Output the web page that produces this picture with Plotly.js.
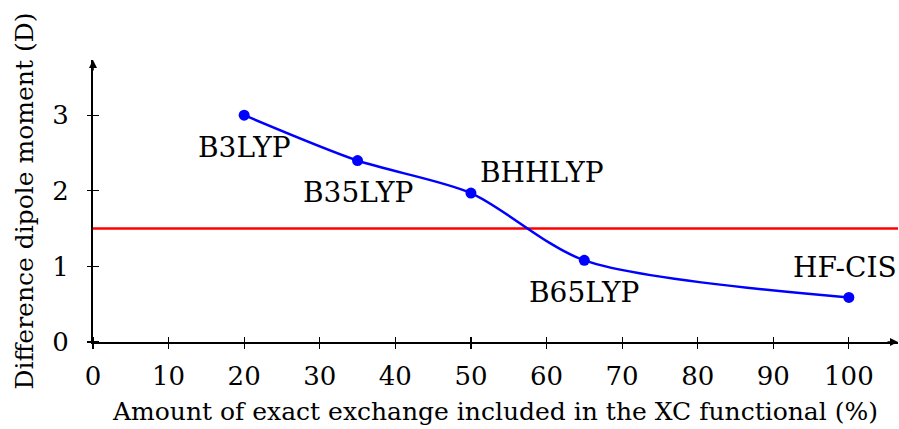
<!DOCTYPE html>
<html><head><meta charset="utf-8">
<script src="https://cdn.plot.ly/plotly-3.0.1.min.js"></script>
<style>html,body{margin:0;padding:0;background:#fff;}</style>
</head><body><div id="c" style="width:899px;height:429px;"></div>
<script>
const xVals = [20, 35, 50, 65, 100];
const yVals = [3.0, 2.4, 1.97, 1.08, 0.59];
const pointLabels = ["B3LYP", "B35LYP", "BHHLYP", "B65LYP", "HF-CIS"];
const labelShiftX = [0, 0, 71, 0, -4];
const labelShiftY = [-32, -32, 21, -32, 30];
const refValue = 1.5;
const xTicks = [0,10,20,30,40,50,60,70,80,90,100];
const yTicks = [0,1,2,3];
const xMax = 106.5, yMax = 3.73;

const FONT = "DejaVu Serif";
const plotW = 805, plotH = 282, halfTick = 6;
const traces = [{
  x: xVals, y: yVals, type: "scatter", mode: "lines+markers",
  line: {color: "#0000ff", width: 2.5, shape: "spline", smoothing: 0.8},
  marker: {color: "#0000ff", size: 11},
  cliponaxis: false, showlegend: false, hoverinfo: "none"
}, {
  x: xVals, y: yVals, xaxis: "x2", yaxis: "y2", mode: "markers",
  marker: {opacity: 0}, showlegend: false, hoverinfo: "none"
}];
const annotations = pointLabels.map((t, i) => ({
  x: xVals[i], y: yVals[i], xref: "x", yref: "y", text: t, showarrow: false,
  xshift: labelShiftX[i], yshift: labelShiftY[i],
  font: {family: FONT, size: 28, color: "#000"}
}));
annotations.push({x: xMax, y: 0, xref: "x", yref: "y", ax: -12, ay: 0, text: "",
  showarrow: true, arrowhead: 2, arrowsize: 1, arrowwidth: 1.6, arrowcolor: "#000"});
annotations.push({x: 0, y: yMax, xref: "x", yref: "y", ax: 0, ay: 12, text: "",
  showarrow: true, arrowhead: 2, arrowsize: 1, arrowwidth: 1.6, arrowcolor: "#000"});

const layout = {
  width: 899, height: 429,
  margin: {l: 93, r: 1, t: 60, b: 87},
  paper_bgcolor: "#fff", plot_bgcolor: "#fff",
  font: {family: FONT, size: 25, color: "#000"},
  xaxis: {range: [0, xMax], tickvals: xTicks, ticks: "", showline: true, linecolor: "#000",
    linewidth: 2, showgrid: false, zeroline: false, ticklabelstandoff: 10,
    tickfont: {family: FONT, size: 26, color: "#000"},
    title: {text: "Amount of exact exchange included in the XC functional (%)", standoff: 12,
      font: {family: FONT, size: 25, color: "#000"}}},
  yaxis: {range: [0, yMax], tickvals: yTicks, ticks: "", showline: true, linecolor: "#000",
    linewidth: 2, showgrid: false, zeroline: false, ticklabelstandoff: 17,
    tickfont: {family: FONT, size: 26, color: "#000"},
    title: {text: "Difference dipole moment (D)", standoff: 12,
      font: {family: FONT, size: 25, color: "#000"}}},
  xaxis2: {overlaying: "x", range: [0, xMax], tickvals: xTicks, ticks: "outside",
    ticklen: 2 * halfTick, tickwidth: 1.2, tickcolor: "#000", showticklabels: false,
    showgrid: false, zeroline: false, showline: false, anchor: "free",
    position: halfTick / plotH, side: "bottom"},
  yaxis2: {overlaying: "y", range: [0, yMax], tickvals: yTicks, ticks: "outside",
    ticklen: 2 * halfTick, tickwidth: 1.2, tickcolor: "#000", showticklabels: false,
    showgrid: false, zeroline: false, showline: false, anchor: "free",
    position: halfTick / plotW, side: "left"},
  shapes: [{type: "line", xref: "paper", x0: 0, x1: 1, yref: "y", y0: refValue, y1: refValue,
    line: {color: "#ff0000", width: 2.5}, layer: "below"}],
  annotations: annotations
};
Plotly.newPlot("c", traces, layout, {staticPlot: true, displayModeBar: false});
</script></body></html>
